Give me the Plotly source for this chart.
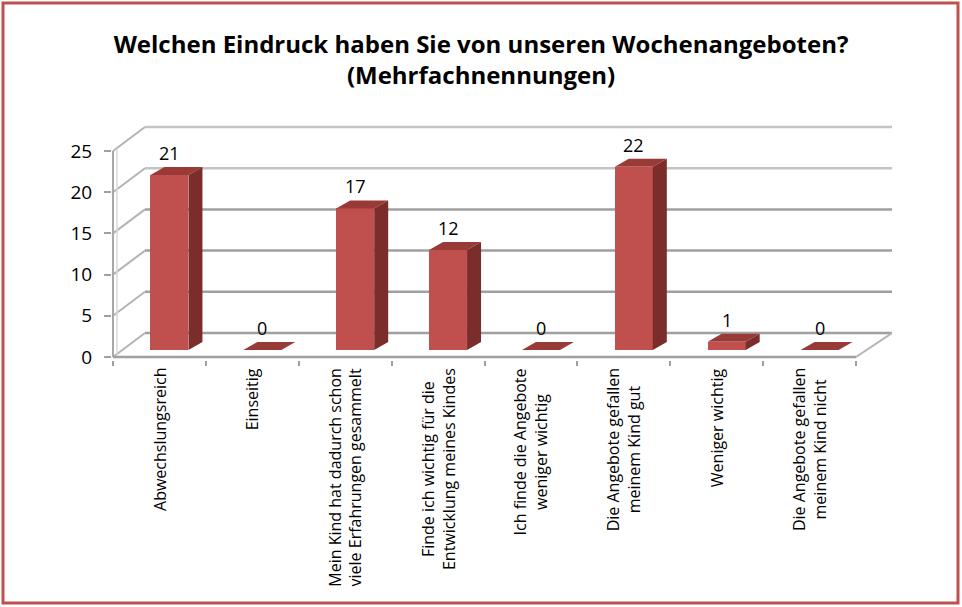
import plotly.graph_objects as go

# ---------------- data ----------------
categories = [
    "Abwechslungsreich",
    "Einseitig",
    "Mein Kind hat dadurch schon<br>viele Erfahrungen gesammelt",
    "Finde ich wichtig für die<br>Entwicklung meines Kindes",
    "Ich finde die Angebote<br>weniger wichtig",
    "Die Angebote gefallen<br>meinem Kind gut",
    "Weniger wichtig",
    "Die Angebote gefallen<br>meinem Kind nicht",
]
values = [21, 0, 17, 12, 0, 22, 1, 0]
y_ticks = [0, 5, 10, 15, 20, 25]
title_text = "Welchen Eindruck haben Sie von unseren Wochenangeboten?<br>(Mehrfachnennungen)"

# ---------------- geometry / style ----------------
W, H = 962, 607
PL, PR, PT, PB = 112, 892, 125, 360          # plot box in pixels
FX0, FX1 = 113, 856                          # front axis start / end (pixels)
N = len(categories)
XS = (FX1 - FX0) / N                          # px per category
FY0 = 357                                     # front y=0 pixel
YS = 8.24                                     # px per unit (walls)
BDX, BDY, BYS = 10, 7, 8.33                   # bar plane shift & scale
HW, DDX, DDY = 19, 14, 8                      # bar half width, bar depth (px)
WDXL, WDXR, WDY = 32, 36, 24                  # wall depth (px)

RED = "#C0504D"
TOP = "#9A3A37"
SIDE = "#7A2D2B"
GRID = "#A0A0A0"
FONT = "Open Sans"

def px2x(px):
    return -0.5 + (px - FX0) / XS

def py2y(py):
    return (FY0 - py) / YS

xr = [px2x(PL), px2x(PR)]
yr = [py2y(PB), py2y(PT)]
x2r = [xr[0] - BDX / XS, xr[1] - BDX / XS]
y2r = [(FY0 - BDY - PB) / BYS, (FY0 - BDY - PT) / BYS]

idx = list(range(N))

fig = go.Figure()
fig.add_trace(go.Bar(
    x=idx, y=values, xaxis="x2", yaxis="y2",
    width=2 * HW / XS, marker=dict(color=RED, line=dict(width=0)),
    hoverinfo="y", showlegend=False,
))

shapes = []
# ---- walls and gridlines (decoration) ----
wdy = WDY / YS
for k in y_ticks:
    shapes.append(dict(type="line", xref="x", yref="y", layer="below",
                       x0=px2x(FX0 + WDXL), x1=px2x(FX1 + WDXR), y0=k + wdy, y1=k + wdy,
                       line=dict(color=GRID if k not in (20, 25) else "#C4C4C4", width=2.5)))
    shapes.append(dict(type="line", xref="x", yref="y", layer="below",
                       x0=px2x(FX0), x1=px2x(FX0 + WDXL), y0=k, y1=k + wdy,
                       line=dict(color="#B4B4B4", width=2)))
shapes.append(dict(type="line", xref="x", yref="y", layer="below",
                   x0=px2x(FX0), x1=px2x(FX0), y0=0, y1=y_ticks[-1],
                   line=dict(color="#A8A8A8", width=2)))
shapes.append(dict(type="line", xref="x", yref="y", layer="below",
                   x0=px2x(FX0 + 4), x1=px2x(FX0 + 4), y0=0.3, y1=y_ticks[-1] + 0.3,
                   line=dict(color="#DADADA", width=1.5)))
shapes.append(dict(type="line", xref="x", yref="y", layer="below",
                   x0=-0.5, x1=N - 0.5, y0=0, y1=0,
                   line=dict(color="#A0A0A0", width=2.5)))
shapes.append(dict(type="line", xref="x", yref="y", layer="below",
                   x0=N - 0.5, x1=px2x(FX1 + WDXR), y0=0, y1=wdy,
                   line=dict(color="#B4B4B4", width=2)))

# ---- 3D bar faces ----
ddy = DDY / BYS
for i, v in zip(idx, values):
    top_path = (f"M {-HW},{v} L {HW},{v} L {HW + DDX},{v + ddy} "
                f"L {-HW + DDX},{v + ddy} Z")
    shapes.append(dict(type="path", xref="x2", yref="y2", xsizemode="pixel",
                       xanchor=i, path=top_path, fillcolor=TOP,
                       line=dict(width=0), layer="above"))
    if v > 0:
        side_path = (f"M {HW},0 L {HW + DDX},{ddy} L {HW + DDX},{v + ddy} "
                     f"L {HW},{v} Z")
        shapes.append(dict(type="path", xref="x2", yref="y2", xsizemode="pixel",
                           xanchor=i, path=side_path, fillcolor=SIDE,
                           line=dict(width=0), layer="above"))

def fx(px):
    return (px - PL) / (PR - PL)

def fy(py):
    return (PB - py) / (PB - PT)

shapes.append(dict(type="rect", xref="paper", yref="paper",
                   x0=fx(3), x1=fx(W - 4), y0=fy(3), y1=fy(H - 4),
                   line=dict(color=RED, width=3), fillcolor="rgba(0,0,0,0)"))

annotations = []
for i, v in zip(idx, values):
    annotations.append(dict(x=i, y=v, xref="x2", yref="y2", text=str(v),
                            showarrow=False, yanchor="bottom", xanchor="center",
                            yshift=8, font=dict(family=FONT, size=18, color="black")))
for i, c in zip(idx, categories):
    annotations.append(dict(x=i, y=0, xref="x", yref="y", text=c, textangle=-90,
                            showarrow=False, yanchor="top", xanchor="center",
                            align="center", yshift=-9,
                            font=dict(family=FONT, size=16, color="black")))

fig.update_layout(
    width=W, height=H,
    margin=dict(l=PL, r=W - PR, t=PT, b=H - PB, pad=0),
    paper_bgcolor="white", plot_bgcolor="white",
    title=dict(text=title_text, x=0.5, xref="container", xanchor="center",
               y=1 - 53 / H, yref="container", yanchor="middle",
               font=dict(family=FONT, size=24, color="black", weight="bold")),
    xaxis=dict(range=xr, showgrid=False, zeroline=False, showline=False,
               tickmode="array", tickvals=[k - 0.5 for k in range(N + 1)],
               ticks="outside", ticklen=5, tickcolor="#A0A0A0", tickwidth=2,
               showticklabels=False, fixedrange=True),
    yaxis=dict(range=yr, showgrid=False, zeroline=False, showline=False,
               tickmode="array", tickvals=y_ticks, ticks="outside", ticklen=7,
               tickcolor="#A0A0A0", tickwidth=2, ticklabelstandoff=8,
               tickfont=dict(family=FONT, size=19, color="black"), fixedrange=True),
    xaxis2=dict(range=x2r, overlaying="x", visible=False, fixedrange=True),
    yaxis2=dict(range=y2r, overlaying="y", visible=False, fixedrange=True),
    shapes=shapes, annotations=annotations,
    bargap=0, showlegend=False,
)

fig.write_html("out.html")
